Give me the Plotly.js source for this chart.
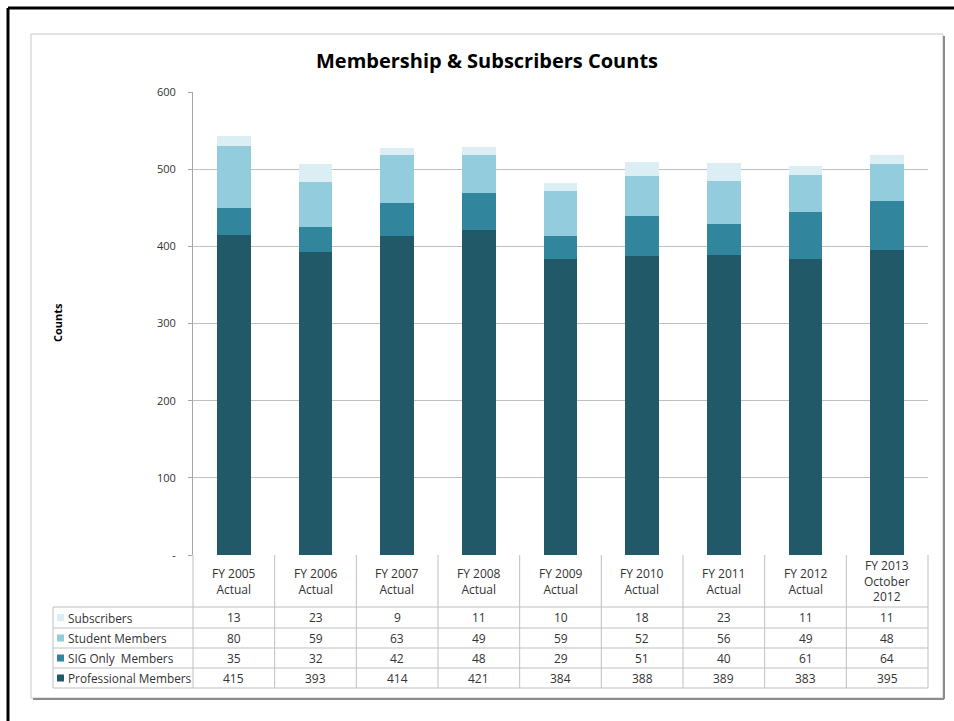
<!DOCTYPE html>
<html>
<head>
<meta charset="utf-8">
<script src="https://cdn.plot.ly/plotly-3.0.1.min.js"></script>
<style>html,body{margin:0;padding:0;background:#fff;}#chart{width:954px;height:721px;}</style>
</head>
<body>
<div id="chart"></div>
<script>
// ---- data ----
const categories = ["FY 2005<br>Actual","FY 2006<br>Actual","FY 2007<br>Actual","FY 2008<br>Actual","FY 2009<br>Actual","FY 2010<br>Actual","FY 2011<br>Actual","FY 2012<br>Actual","FY 2013<br>October<br>2012"];
const seriesNames = ["Professional Members","SIG Only  Members","Student Members","Subscribers"];
const professional = [415,393,414,421,384,388,389,383,395];
const sigOnly = [35,32,42,48,29,51,40,61,64];
const student = [80,59,63,49,59,52,56,49,48];
const subscribers = [13,23,9,11,10,18,23,11,11];
const yTickVals = [0,100,200,300,400,500,600];
const yTickText = ["-","100","200","300","400","500","600"];

const colors = ["#215968","#31859C","#93CDDD","#DBEEF4"];
const seriesValues = [professional, sigOnly, student, subscribers];

const W = 954, H = 721;
const L = 193, R = 928, T = 92, B = 555;
const px = x => (x - L) / (R - L);
const py = y => (B - y) / (B - T);

const traces = seriesValues.map((vals, i) => ({
  type: 'bar', name: seriesNames[i], x: categories, y: vals,
  marker: {color: colors[i], line: {width: 0}}, hoverinfo: 'y+name'
}));

const fontFam = 'Open Sans, Liberation Sans, sans-serif';
const txtColor = '#333333';
const gridCol = '#BFBFBF';
const n = categories.length;

const shapes = [];
const annotations = [];
// outer black frame (top and left)
shapes.push({type:'line', xref:'paper', yref:'paper', x0:px(8), x1:px(954), y0:py(8), y1:py(8), line:{color:'#000', width:3}});
shapes.push({type:'line', xref:'paper', yref:'paper', x0:px(8), x1:px(8), y0:py(8), y1:py(721), line:{color:'#000', width:3}});
// chart area box
shapes.push({type:'rect', xref:'paper', yref:'paper', x0:px(31), x1:px(943), y0:py(34), y1:py(698), line:{color:'#C8C8C8', width:1}});
shapes.push({type:'line', xref:'paper', yref:'paper', x0:px(944), x1:px(944), y0:py(36), y1:py(699), line:{color:'#8C8C8C', width:2}});
shapes.push({type:'line', xref:'paper', yref:'paper', x0:px(33), x1:px(944), y0:py(699), y1:py(699), line:{color:'#8C8C8C', width:2}});

// table grid
const rowLines = [607, 628, 648, 668, 688];
const tableLeft = 53;
rowLines.forEach(y => shapes.push({type:'line', xref:'paper', yref:'paper', x0:px(tableLeft), x1:1, y0:py(y), y1:py(y), line:{color:gridCol, width:1}}));
for (let k = 0; k <= n; k++) {
  shapes.push({type:'line', xref:'paper', yref:'paper', x0:k/n, x1:k/n, y0:0, y1:py(688), line:{color:gridCol, width:1}});
}
shapes.push({type:'line', xref:'paper', yref:'paper', x0:px(tableLeft), x1:px(tableLeft), y0:py(607), y1:py(688), line:{color:gridCol, width:1}});

// header labels
categories.forEach((c, i) => annotations.push({xref:'x', yref:'paper', x:i, y:py(581), text:c, showarrow:false, xanchor:'center', yanchor:'middle', align:'center', font:{family:fontFam, size:12, color:txtColor}}));

// rows (top to bottom: subscribers, student, sig, professional)
const rowOrder = [3,2,1,0];
const rowCenters = [617.5, 638, 658, 678];
rowOrder.forEach((s, r) => {
  const yc = py(rowCenters[r]);
  shapes.push({type:'rect', xref:'paper', yref:'paper', x0:px(57), x1:px(64), y0:py(rowCenters[r]-3.5), y1:py(rowCenters[r]+3.5), fillcolor:colors[s], line:{width:0}});
  annotations.push({xref:'paper', yref:'paper', x:px(66), y:yc, text:seriesNames[s].replace(/  /g,'&nbsp; '), showarrow:false, xanchor:'left', yanchor:'middle', font:{family:fontFam, size:11.8, color:txtColor}});
  seriesValues[s].forEach((v, i) => annotations.push({xref:'x', yref:'paper', x:i, y:yc, text:String(v), showarrow:false, xanchor:'center', yanchor:'middle', font:{family:fontFam, size:12, color:txtColor}}));
});

// y-axis title
annotations.push({xref:'paper', yref:'paper', x:px(57), y:py(323), text:'<b>Counts</b>', textangle:-90, showarrow:false, xanchor:'center', yanchor:'middle', font:{family:fontFam, size:11, color:'#000'}});

const layout = {
  width: W, height: H,
  margin: {l: L, r: W - R, t: T, b: H - B, pad: 0},
  paper_bgcolor: '#fff', plot_bgcolor: '#fff',
  barmode: 'stack', bargap: 0.59,
  showlegend: false,
  title: {text: '<b>Membership & Subscribers Counts</b>', xref:'container', yref:'container', x: 487/W, y: 1 - 61/H, xanchor:'center', yanchor:'middle', font:{family:fontFam, size:20, color:'#000'}},
  xaxis: {type:'category', showticklabels:false, ticks:'', showgrid:false, showline:false, zeroline:false, fixedrange:true},
  yaxis: {range:[0,600], tickvals:yTickVals, ticktext:yTickText, ticks:'outside', ticklen:4, tickcolor:'#A6A6A6', ticklabelstandoff:10,
          showgrid:true, gridcolor:gridCol, gridwidth:1, showline:true, linecolor:'#A6A6A6', linewidth:1, zeroline:false,
          tickfont:{family:fontFam, size:11, color:txtColor}, fixedrange:true},
  shapes: shapes, annotations: annotations
};

Plotly.newPlot('chart', traces, layout, {displayModeBar:false, staticPlot:true});
</script>
</body>
</html>
